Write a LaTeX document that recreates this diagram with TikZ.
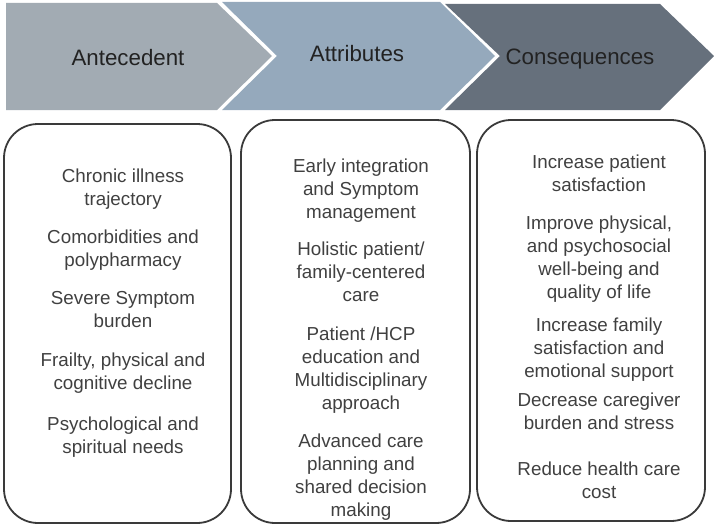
\documentclass[tikz,border=0pt]{standalone}
\usepackage{fontspec}
\setmainfont{Liberation Sans}
\definecolor{chA}{HTML}{A2ABB3}
\definecolor{chB}{HTML}{95A9BC}
\definecolor{chC}{HTML}{66707C}
\definecolor{txt}{HTML}{404040}
\definecolor{hdr}{HTML}{222222}
\definecolor{bord}{HTML}{3A3A3A}
\begin{document}
\begin{tikzpicture}[x=1pt,y=-1pt,
  hdrtxt/.style={font=\fontsize{22.3}{24}\selectfont, text=hdr, inner sep=0pt, anchor=base},
  panel/.style={draw=bord, line width=1.8pt, rounded corners=34pt},
  item/.style={font=\fontsize{18.8}{23}\selectfont, text=txt, align=center, inner sep=0pt, anchor=north}]
\useasboundingbox (0,0) rectangle (714,527);
% chevrons
\fill[chA] (6,3) -- (217,3) -- (272,56) -- (217,110) -- (6,110) -- cycle;
\fill[chB] (222,2) -- (440,2) -- (495,56) -- (440,110) -- (222,110) -- (277,56) -- cycle;
\fill[chC] (445,4) -- (660,4) -- (714,56) -- (660,110) -- (445,110) -- (500,56) -- cycle;
\node[hdrtxt] (h1) at (128,65) {Antecedent};
\node[hdrtxt] (h2) at (357,61.5) {Attributes};
\node[hdrtxt] (h3) at (580,64.5) {Consequences};
% panels
\draw[panel] (4,124) rectangle (231,523);
\draw[panel] (241,120) rectangle (470,523);
\draw[panel] (477,120) rectangle (705,521);
% box 1
\node[item] (a1) at (123,169) {Chronic illness\\trajectory};
\node[item] (a2) at (123,230) {Comorbidities and\\polypharmacy};
\node[item] (a3) at (123,291) {Severe Symptom\\burden};
\node[item] (a4) at (123,353) {Frailty, physical and\\cognitive decline};
\node[item] (a5) at (123,417) {Psychological and\\spiritual needs};
% box 2
\node[item] (b1) at (361,159) {Early integration\\and Symptom\\management};
\node[item] (b2) at (361,242) {Holistic patient/\\family-centered\\care};
\node[item] (b3) at (361,327) {Patient /HCP\\education and\\Multidisciplinary\\approach};
\node[item] (b4) at (361,434) {Advanced care\\planning and\\shared decision\\making};
% box 3
\node[item] (c1) at (599,155) {Increase patient\\satisfaction};
\node[item] (c2) at (599,216) {Improve physical,\\and psychosocial\\well-being and\\quality of life};
\node[item] (c3) at (599,318) {Increase family\\satisfaction and\\emotional support};
\node[item] (c4) at (599,393) {Decrease caregiver\\burden and stress};
\node[item] (c5) at (599,462) {Reduce health care\\cost};
\end{tikzpicture}
\end{document}
